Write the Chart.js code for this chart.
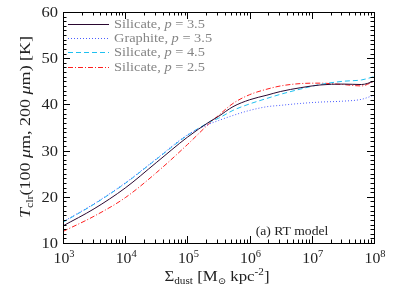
<!DOCTYPE html>
<html><head><meta charset="utf-8">
<script src="https://cdn.jsdelivr.net/npm/chart.js@4"></script>
<style>html,body{margin:0;padding:0;background:#fff}canvas{display:block}</style>
</head><body>
<canvas id="c" width="399" height="291"></canvas>
<script>
// Surface dust density grid (M_sun kpc^-2)
const sigma = [1e3, 3.16e3, 1e4, 3.16e4, 1e5, 2.3e5, 3.16e5, 5.4e5, 1e6, 1.9e6, 3.16e6, 6.5e6, 1.35e7, 3.16e7, 6.3e7, 1e8];
// Colour temperatures T_clr (K)
const silicate35 = [13.7, 17.4, 21.9, 27.4, 32.9, 36.3, 37.4, 39.5, 41.0, 42.0, 42.8, 43.6, 44.2, 44.4, 44.3, 45.0];
const graphite35 = [14.6, 18.5, 23.0, 28.2, 33.4, 35.8, 36.5, 37.6, 38.7, 39.5, 39.8, 40.2, 40.5, 40.7, 41.1, 42.0];
const silicate45 = [14.5, 18.4, 22.9, 28.1, 33.3, 36.2, 37.0, 38.7, 40.1, 41.3, 42.2, 43.3, 44.3, 45.0, 45.3, 46.0];
const silicate25 = [12.5, 15.8, 19.8, 25.2, 31.3, 36.0, 37.6, 40.2, 42.1, 43.3, 44.0, 44.5, 44.6, 44.3, 44.0, 45.0];
const seriesNames = ["Silicate", "Graphite", "Silicate", "Silicate"];
const seriesP = ["3.5", "3.5", "4.5", "2.5"];
const yTicks = [10, 20, 30, 40, 50, 60];
const xDecades = [3, 4, 5, 6, 7, 8];

const styles = [
  {color: '#2a0830', dash: []},
  {color: '#4a5cff', dash: [1, 2]},
  {color: '#1ec0f0', dash: [5, 3]},
  {color: '#ff1e1e', dash: [5, 2, 1, 2]}
];
const allT = [silicate35, graphite35, silicate45, silicate25];
const datasets = allT.map((arr, i) => ({
  label: seriesNames[i] + ', p = ' + seriesP[i],
  data: sigma.map((s, k) => ({x: s, y: arr[k]})),
  borderColor: styles[i].color,
  borderDash: styles[i].dash,
  borderWidth: 1,
  pointRadius: 0,
  cubicInterpolationMode: 'monotone',
  fill: false
}));

const SERIF = "'Liberation Serif', 'DejaVu Serif', serif";
function fnt(p) { return (p.italic ? 'italic ' : '') + p.size + 'px ' + SERIF; }
function rich(ctx, pieces, x, y, align, sx) {
  sx = sx || 1;
  let total = 0;
  const ws = pieces.map(p => { ctx.font = fnt(p); const w = ctx.measureText(p.t).width; total += w; return w; });
  let start = x;
  if (align === 'center') start = x - total * sx / 2;
  else if (align === 'right') start = x - total * sx;
  ctx.save();
  ctx.translate(start, y);
  ctx.scale(sx, 1);
  let cx = 0;
  pieces.forEach((p, i) => { ctx.font = fnt(p); ctx.fillText(p.t, cx, p.dy || 0); cx += ws[i]; });
  ctx.restore();
  return total * sx;
}

const decor = {
  id: 'decor',
  afterDraw(chart) {
    const ctx = chart.ctx, xs = chart.scales.x, ys = chart.scales.y, a = chart.chartArea;
    ctx.save();
    ctx.strokeStyle = '#000';
    ctx.lineWidth = 1;
    ctx.setLineDash([]);
    ctx.strokeRect(Math.round(a.left) + 0.5, Math.round(a.top) + 0.5, Math.round(a.right - a.left), Math.round(a.bottom - a.top));
    ctx.beginPath();
    for (let v = 10; v <= 60; v++) {
      const y = Math.round(ys.getPixelForValue(v)) + 0.5;
      const L = v % 10 === 0 ? 7 : 3.5;
      ctx.moveTo(a.left, y); ctx.lineTo(a.left + L, y);
      ctx.moveTo(a.right, y); ctx.lineTo(a.right - L, y);
    }
    for (const d of xDecades) {
      for (let m = 1; m <= 9; m++) {
        if (d === 8 && m > 1) break;
        const x = Math.round(xs.getPixelForValue(m * Math.pow(10, d))) + 0.5;
        const L = m === 1 ? 7 : 3.5;
        ctx.moveTo(x, a.bottom); ctx.lineTo(x, a.bottom - L);
        ctx.moveTo(x, a.top); ctx.lineTo(x, a.top + L);
      }
    }
    ctx.stroke();

    ctx.fillStyle = '#222';
    ctx.textBaseline = 'alphabetic';
    // y tick labels
    for (const v of yTicks) {
      const y = ys.getPixelForValue(v);
      rich(ctx, [{t: String(v), size: 15}], a.left - 5, y + 5, 'right', 1.1);
    }
    // x tick labels
    for (const d of xDecades) {
      const x = xs.getPixelForValue(Math.pow(10, d));
      rich(ctx, [{t: '10', size: 15}, {t: String(d), size: 10, dy: -6}], x + 1, 263, 'center', 1.05);
    }
    // x title
    rich(ctx, [{t: 'Σ', size: 15}, {t: 'dust', size: 10, dy: 3}, {t: ' [M', size: 15}, {t: '⊙', size: 9, dy: 3}, {t: ' kpc', size: 15}, {t: '-2', size: 10, dy: -6}, {t: ']', size: 15}], 217, 281, 'center', 1.12);
    // y title
    ctx.save();
    ctx.translate(30, 127);
    ctx.rotate(-Math.PI / 2);
    rich(ctx, [{t: 'T', size: 15, italic: true}, {t: 'clr', size: 10, dy: 3}, {t: '(100 ', size: 15}, {t: 'μ', size: 15, italic: true}, {t: 'm, 200 ', size: 15}, {t: 'μ', size: 15, italic: true}, {t: 'm) [K]', size: 15}], 0, 0, 'center', 1.2);
    ctx.restore();
    // annotation
    rich(ctx, [{t: '(a) RT model', size: 13}], 292, 235, 'center', 1.05);

    // legend
    const ly = [24, 38.3, 52.3, 66.7];
    chart.data.datasets.forEach((ds, i) => {
      ctx.strokeStyle = ds.borderColor;
      ctx.setLineDash(ds.borderDash);
      ctx.lineWidth = 1;
      ctx.beginPath();
      ctx.moveTo(68, Math.round(ly[i]) + 0.5);
      ctx.lineTo(109, Math.round(ly[i]) + 0.5);
      ctx.stroke();
      ctx.setLineDash([]);
      ctx.fillStyle = '#858585';
      rich(ctx, [{t: seriesNames[i] + ', ', size: 12}, {t: 'p', size: 12, italic: true}, {t: ' = ' + seriesP[i], size: 12}], 114, ly[i] + 4, 'left', 1.2);
    });
    ctx.restore();
  }
};

new Chart(document.getElementById('c'), {
  type: 'line',
  data: {datasets},
  options: {
    responsive: false,
    animation: false,
    devicePixelRatio: 1,
    layout: {padding: {left: 63, right: 25, top: 12, bottom: 48}},
    plugins: {legend: {display: false}, tooltip: {enabled: false}},
    scales: {
      x: {type: 'logarithmic', min: 1e3, max: 1e8, display: false},
      y: {type: 'linear', min: 10, max: 60, display: false}
    }
  },
  plugins: [decor]
});
</script>
</body></html>
